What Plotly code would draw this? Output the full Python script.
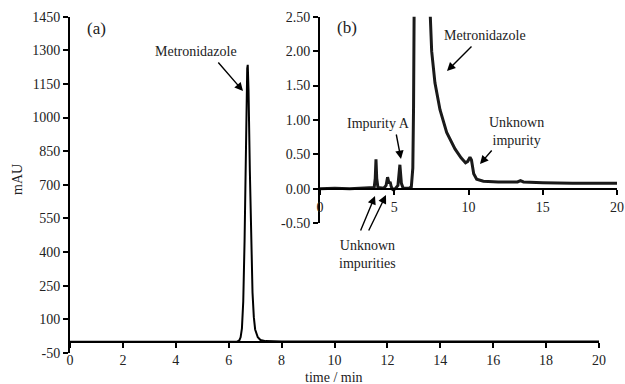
import plotly.graph_objects as go

# ---- data: main chromatogram (a) ----
time_a = [0, 3.7, 3.8, 3.9, 5.4, 5.5, 5.6, 6.3, 6.4, 6.45, 6.5, 6.55, 6.6, 6.65, 6.7, 6.72,
          6.75, 6.8, 6.85, 6.9, 6.95, 7.0, 7.1, 7.2, 7.4, 8.0, 20]
mau_a = [0, 0, 2, 0, 0, 2, 0, 0, 6, 20, 60, 180, 450, 900, 1220, 1235,
         1120, 760, 420, 220, 110, 55, 20, 8, 3, 1, 1]

# ---- data: zoomed chromatogram (b) ----
time_b = [0, 1.0, 2.0, 3.0, 3.5, 3.65, 3.72, 3.77, 3.82, 3.9, 4.3, 4.45, 4.55, 4.65, 4.72,
          4.8, 4.9, 5.05, 5.25, 5.38, 5.48, 5.6, 6.0, 6.15, 6.25, 6.3, 6.35, 6.5, 6.7,
          7.0, 7.3, 7.4, 7.52, 7.74, 8.08, 8.53, 9.09, 9.5, 9.8, 9.95, 10.1, 10.2, 10.35,
          10.55, 11.0, 12.0, 13.3, 13.5, 13.7, 15.0, 17.0, 20.0]
au_b = [0.0, 0.01, 0.0, 0.01, 0.01, 0.02, 0.15, 0.43, 0.15, 0.02, 0.01, 0.05, 0.17, 0.08, 0.10,
        0.03, -0.01, 0.0, 0.05, 0.35, 0.08, 0.01, 0.01, 0.03, 0.3, 1.2, 3.0, 50, 1230,
        30, 3.2, 2.5, 2.0, 1.54, 1.15, 0.82, 0.58, 0.45, 0.38, 0.40, 0.46, 0.42, 0.22,
        0.14, 0.11, 0.10, 0.10, 0.12, 0.10, 0.09, 0.08, 0.08]

ticks_a_y = [-50, 100, 250, 400, 550, 700, 850, 1000, 1150, 1300, 1450]
ticks_a_x = [0, 2, 4, 6, 8, 10, 12, 14, 16, 18, 20]
ticks_b_y = [-0.5, 0, 0.5, 1.0, 1.5, 2.0, 2.5]
ticks_b_x = [0, 5, 10, 15, 20]

FONT = "Liberation Serif, Times New Roman, serif"
FS = 14
W, H = 625, 384
ML, MR, MT, MB = 70, 5, 10, 31
PW, PH = W - ML - MR, H - MT - MB

def px_x(p):
    return (p - ML) / PW

def px_y(p):
    return (H - MB - p) / PH

fig = go.Figure()
fig.add_trace(go.Scatter(x=time_a, y=mau_a, mode="lines",
                         line=dict(color="black", width=2), xaxis="x", yaxis="y",
                         showlegend=False))
fig.add_trace(go.Scatter(x=time_b, y=au_b, mode="lines",
                         line=dict(color="#1a1a1a", width=3), xaxis="x2", yaxis="y2",
                         showlegend=False))

axis_common = dict(showgrid=False, zeroline=False, showline=True, linecolor="black",
                   linewidth=2, ticks="outside", ticklen=5, tickwidth=1.5, tickcolor="black",
                   automargin=False,
                   tickfont=dict(family=FONT, size=FS, color="#222"))

fig.update_layout(
    width=W, height=H, margin=dict(l=ML, r=MR, t=MT, b=MB),
    plot_bgcolor="white", paper_bgcolor="white",
    font=dict(family=FONT, size=FS, color="#222"),
    xaxis=dict(domain=[0, px_x(599)], range=[0, 20], tickvals=ticks_a_x,
               anchor="free", position=px_y(342.3),
               **axis_common),
    yaxis=dict(domain=[0, px_y(16.7)], range=[-50, 1450], tickvals=ticks_a_y,
               ticktext=[str(v) for v in ticks_a_y],
               anchor="x", **axis_common),
    xaxis2=dict(domain=[px_x(320), px_x(617)], range=[0, 20], tickvals=ticks_b_x,
                anchor="free", position=px_y(188.9), **axis_common),
    yaxis2=dict(domain=[px_y(223.3), px_y(16.7)], range=[-0.5, 2.5], tickvals=ticks_b_y,
                ticktext=["%.2f" % v for v in ticks_b_y], anchor="x2", **axis_common),
)

def label(text, x, y, size=FS, angle=0):
    fig.add_annotation(text=text, x=px_x(x), y=px_y(y), xref="paper", yref="paper",
                       showarrow=False, font=dict(family=FONT, size=size, color="#222"),
                       xanchor="center", yanchor="middle", textangle=angle)

def arrow(x0, y0, x1, y1):
    fig.add_annotation(text="", x=px_x(x1), y=px_y(y1), xref="paper", yref="paper",
                       ax=x0 - x1, ay=y0 - y1, axref="pixel", ayref="pixel",
                       showarrow=True, arrowhead=2, arrowsize=1.2, arrowwidth=1.4,
                       arrowcolor="black")

label("time / min", 334, 377)
label("mAU", 17, 180, angle=-90)
label("(a)", 96, 28, size=17)
label("(b)", 347, 27, size=17)

label("Metronidazole", 196, 51)
arrow(217, 61, 243, 91)

label("Metronidazole", 485, 35)
arrow(473, 45, 447, 71)

label("Impurity A", 378, 123)
arrow(396, 133, 401, 159)

label("Unknown<br>impurity", 516, 131)
arrow(493, 149, 480, 164)

label("Unknown<br>impurities", 367, 254)
arrow(360, 232, 375, 196)
arrow(368, 232, 386, 195)

fig.write_html("out.html")
